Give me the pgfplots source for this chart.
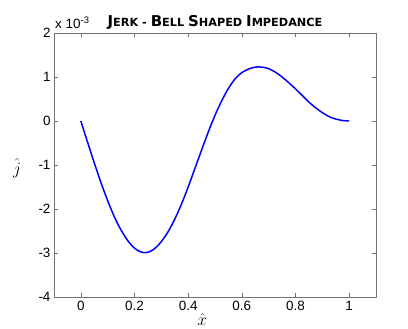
\documentclass[border=0pt]{standalone}
\usepackage{pgfplots}
\pgfplotsset{compat=1.18}
\usepackage{fontspec}
\setmainfont{Liberation Sans}
\newfontfamily\titlefont{DejaVu Sans}
\newcommand\BC[1]{{\fontsize{15}{16}\selectfont #1}}
\newcommand\SC[1]{{\fontsize{11.3}{13}\selectfont #1}}
\begin{document}
\begin{tikzpicture}[x=1bp,y=1bp]
\path[use as bounding box] (0,0) rectangle (408,329);
\begin{axis}[
  at={(54bp,32bp)}, anchor=south west,
  scale only axis, width=322bp, height=264bp,
  xmin=-0.1, xmax=1.1, ymin=-4, ymax=2,
  xtick={0,0.2,0.4,0.6,0.8,1},
  ytick={-4,-3,-2,-1,0,1,2},
  xticklabels={0,0.2,0.4,0.6,0.8,1},
  yticklabels={-4,-3,-2,-1,0,1,2},
  tick align=inside, major tick length=4bp,
  axis line style={black!55, line width=0.8pt},
  every tick/.style={black!55, line width=0.6pt},
  tick label style={font=\fontsize{13.5}{15}\selectfont, text=black},
  xticklabel style={yshift=-1bp},
  yticklabel style={xshift=0bp},
  /pgf/number format/assume math mode=true,
  title={\titlefont\bfseries \BC{J}\SC{ERK - }\BC{B}\SC{ELL }\BC{S}\SC{HAPED }\BC{I}\SC{MPEDANCE}},
  title style={at={(0.5,1)}, anchor=south, yshift=-6bp},
  xlabel={\fontsize{19}{20}\selectfont $\hat{x}$},
  xlabel style={at={(0.46,0)}, anchor=north, yshift=-13bp},
  ylabel={\fontsize{19}{20}\selectfont $\hat{j}$},
  ylabel style={rotate=-90, at={(0,0.5)}, anchor=center, xshift=-37bp, yshift=-3bp},
  clip=false,
]
\addplot[blue, line width=1.5pt, smooth] coordinates {
(0,0) (0.025,-0.48) (0.05,-0.95) (0.075,-1.40) (0.10,-1.81) (0.125,-2.18)
(0.15,-2.48) (0.175,-2.72) (0.20,-2.89) (0.225,-2.98) (0.25,-2.985) (0.275,-2.90)
(0.30,-2.74) (0.325,-2.52) (0.35,-2.23) (0.375,-1.89) (0.40,-1.50) (0.425,-1.08)
(0.45,-0.66) (0.475,-0.25) (0.50,0.13) (0.525,0.46) (0.55,0.74) (0.575,0.96)
(0.60,1.10) (0.625,1.18) (0.65,1.225) (0.675,1.225) (0.70,1.19) (0.725,1.11)
(0.75,1.00) (0.775,0.87) (0.80,0.73) (0.825,0.58) (0.85,0.43) (0.875,0.30)
(0.90,0.19) (0.925,0.10) (0.95,0.045) (0.975,0.012) (1.0,0)
};
\node[anchor=south west, font=\fontsize{13.5}{15}\selectfont, inner sep=0pt, xshift=1bp, yshift=4bp] at (rel axis cs:0,1) {x 10\textsuperscript{-3}};
\end{axis}
\end{tikzpicture}
\end{document}
